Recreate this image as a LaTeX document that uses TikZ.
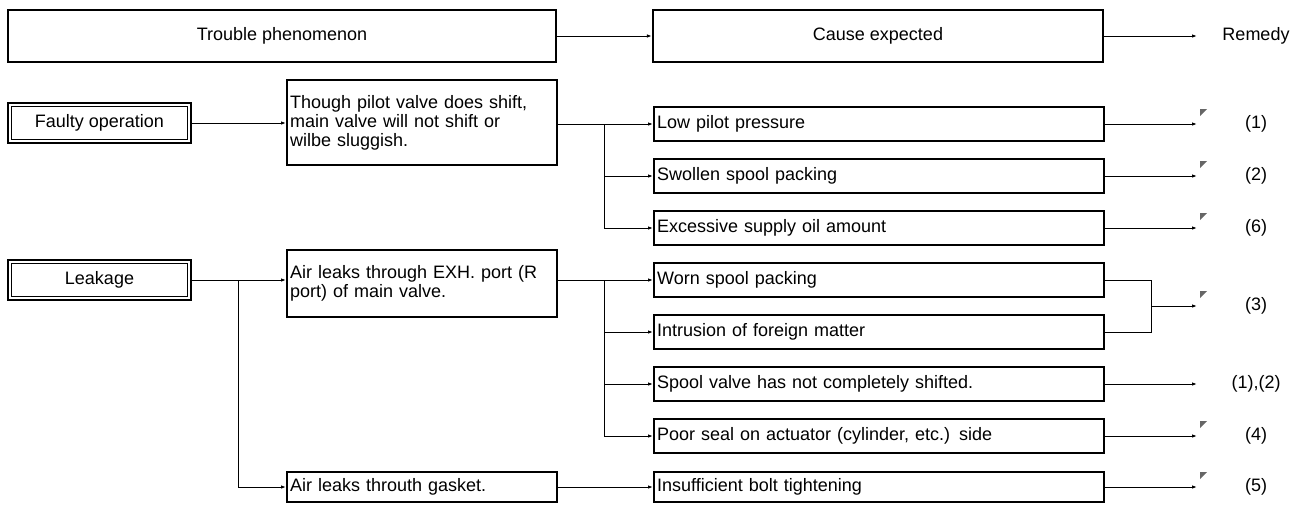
\documentclass[tikz,border=0pt]{standalone}
\usepackage{fontspec}
\setmainfont{Liberation Sans}
\usetikzlibrary{arrows.meta}

\begin{document}
\begin{tikzpicture}[x=1pt,y=-1pt,%%
  boxStyle/.style={draw,line width=2.2pt,inner xsep=3pt,inner ysep=0pt},%%
  headStyle/.style={boxStyle,minimum height=52pt},%%
  groupStyle/.style={boxStyle,minimum width=183pt,minimum height=40pt},%%
  phenoStyle/.style={boxStyle,anchor=north west,text width=264pt,align=left},%%
  causeStyle/.style={boxStyle,anchor=west,minimum height=34pt,text width=444pt,align=left},%%
  innerStyle/.style={-,line width=1pt},%%
  arrowStyle/.style={-{Latex[length=5pt,width=3.5pt]},line width=1pt},%%
  lineStyle/.style={-,line width=1pt},%%
  markStyle/.style={fill=black!60},%%
  labelStyle/.style={inner sep=0pt}%%
]
%%
\fontsize{18}{19}\selectfont
\useasboundingbox (0,0) rectangle (1310,504);
%%
\pgfmathsetmacro{\xgroup}{99.5}  %% centre of the left boxes
\pgfmathsetmacro{\xpheno}{286}   %% left edge of the phenomenon boxes
\pgfmathsetmacro{\xcause}{653}   %% left edge of the cause boxes
\pgfmathsetmacro{\xsplit}{238}   %% junction under Leakage
\pgfmathsetmacro{\xfork}{604}    %% junction before the causes
\pgfmathsetmacro{\xjoin}{1151}   %% junction of the (3) pair
\pgfmathsetmacro{\xend}{1197}    %% end of the remedy arrows
\pgfmathsetmacro{\xrem}{1256}    %% centre of the remedy column
\pgfmathsetmacro{\ytop}{36}      %% header row
\pgfmathsetmacro{\dy}{52}        %% gap between cause rows
%% The cause rows.
\pgfmathsetmacro{\yA}{124}
\pgfmathsetmacro{\yB}{\yA+\dy}
\pgfmathsetmacro{\yC}{\yA+2*\dy}
\pgfmathsetmacro{\yD}{\yA+3*\dy}
\pgfmathsetmacro{\yE}{\yA+4*\dy}
\pgfmathsetmacro{\yF}{\yA+5*\dy}
\pgfmathsetmacro{\yG}{\yA+6*\dy}
\pgfmathsetmacro{\yH}{\yA+7*\dy-1}
%%
%% Header.
\node[headStyle,minimum width=548pt] (trouble) at (282,\ytop) {Trouble phenomenon};
\node[headStyle,minimum width=450pt] (causeHead) at (878,\ytop) {Cause expected};
\node[labelStyle] (remedy) at (\xrem,\ytop) {Remedy};
\coordinate (remHead) at (\xend,\ytop);
\draw[arrowStyle] (trouble) -- (causeHead);
\draw[arrowStyle] (causeHead) -- (remHead);
%%
%% Faulty operation.
\node[groupStyle] (faulty) at (\xgroup,\yA-1) {Faulty operation};
\draw[innerStyle] ([shift={(5,5)}]faulty.north west) rectangle ([shift={(-5,-5)}]faulty.south east);
\node[phenoStyle,minimum height=85pt] (pilot) at (\xpheno,79)
  {Though pilot valve does shift,\\main valve will not shift or\\wilbe sluggish.};
\draw[arrowStyle] (faulty.east) -- (faulty.east -| pilot.west);
%%
\node[causeStyle] (lowPress) at (\xcause,\yA) {Low pilot pressure};
\node[causeStyle] (swollen) at (\xcause,\yB) {Swollen spool packing};
\node[causeStyle] (excess) at (\xcause,\yC) {Excessive supply oil amount};
\coordinate (forkA) at (\xfork,\yA);
\draw[lineStyle] (pilot.east |- forkA) -- (forkA);
\draw[arrowStyle] (forkA) -- (lowPress);
\draw[arrowStyle] (forkA) |- (swollen.west);
\draw[arrowStyle] (forkA) |- (excess.west);
%%
%% Leakage.
\node[groupStyle] (leak) at (\xgroup,\yD) {Leakage};
\draw[innerStyle] ([shift={(5,5)}]leak.north west) rectangle ([shift={(-5,-5)}]leak.south east);
\node[phenoStyle,minimum height=67pt] (exhPort) at (\xpheno,249)
  {Air leaks through EXH. port (R\\port) of main valve.};
\node[phenoStyle,anchor=west,minimum height=30pt] (gasket) at (\xpheno,\yH) {Air leaks throuth gasket.};
\coordinate (splitL) at (\xsplit,\yD);
\draw[arrowStyle] (leak.east) -- (leak.east -| exhPort.west);
\draw[arrowStyle] (splitL) |- (gasket.west);
%%
\node[causeStyle] (worn) at (\xcause,\yD) {Worn spool packing};
\node[causeStyle] (intrusion) at (\xcause,\yE) {Intrusion of foreign matter};
\node[causeStyle] (spool) at (\xcause,\yF) {Spool valve has not completely shifted.};
\node[causeStyle] (poorSeal) at (\xcause,\yG) {Poor seal on actuator (cylinder, etc.) side};
\node[causeStyle,minimum height=30pt] (bolt) at (\xcause,\yH) {Insufficient bolt tightening};
\coordinate (forkB) at (\xfork,\yD);
\draw[lineStyle] (exhPort.east |- forkB) -- (forkB);
\draw[arrowStyle] (forkB) -- (worn);
\draw[arrowStyle] (forkB) |- (intrusion.west);
\draw[arrowStyle] (forkB) |- (spool.west);
\draw[arrowStyle] (forkB) |- (poorSeal.west);
\draw[arrowStyle] (gasket) -- (bolt);
%%
%% Remedies.
\coordinate (remA) at (\xend,\yA);
\coordinate (remB) at (\xend,\yB);
\coordinate (remC) at (\xend,\yC);
\coordinate (joinTop) at (\xjoin,\yD);
\coordinate (joinBot) at (\xjoin,\yE);
\coordinate (joinMid) at (\xjoin,\yD/2+\yE/2);
\coordinate (remD) at (\xend,\yD/2+\yE/2);
\coordinate (remF) at (\xend,\yF);
\coordinate (remG) at (\xend,\yG);
\coordinate (remH) at (\xend,\yH);
\draw[arrowStyle] (lowPress) -- (remA);
\draw[arrowStyle] (swollen) -- (remB);
\draw[arrowStyle] (excess) -- (remC);
\draw[lineStyle] (worn.east) -- (joinTop) -- (joinBot) -- (intrusion.east);
\draw[arrowStyle] (joinMid) -- (remD);
\draw[arrowStyle] (spool) -- (remF);
\draw[arrowStyle] (poorSeal) -- (remG);
\draw[arrowStyle] (bolt) -- (remH);
%% Small corner marks at the arrow ends.
\fill[markStyle] ([shift={(3,-15)}]remA) -- ++(7,0) -- ++(-7,7) -- cycle;
\fill[markStyle] ([shift={(3,-15)}]remB) -- ++(7,0) -- ++(-7,7) -- cycle;
\fill[markStyle] ([shift={(3,-15)}]remC) -- ++(7,0) -- ++(-7,7) -- cycle;
\fill[markStyle] ([shift={(3,-15)}]remD) -- ++(7,0) -- ++(-7,7) -- cycle;
\fill[markStyle] ([shift={(3,-15)}]remG) -- ++(7,0) -- ++(-7,7) -- cycle;
\fill[markStyle] ([shift={(3,-15)}]remH) -- ++(7,0) -- ++(-7,7) -- cycle;
%%
\node[labelStyle] (remOne) at (\xrem,\yA) {(1)};
\node[labelStyle] (remTwo) at (\xrem,\yB) {(2)};
\node[labelStyle] (remSix) at (\xrem,\yC) {(6)};
\node[labelStyle] (remThree) at (\xrem,\yD/2+\yE/2) {(3)};
\node[labelStyle] (remPair) at (\xrem,\yF) {(1),(2)};
\node[labelStyle] (remFour) at (\xrem,\yG) {(4)};
\node[labelStyle] (remFive) at (\xrem,\yH) {(5)};
\end{tikzpicture}
\end{document}
